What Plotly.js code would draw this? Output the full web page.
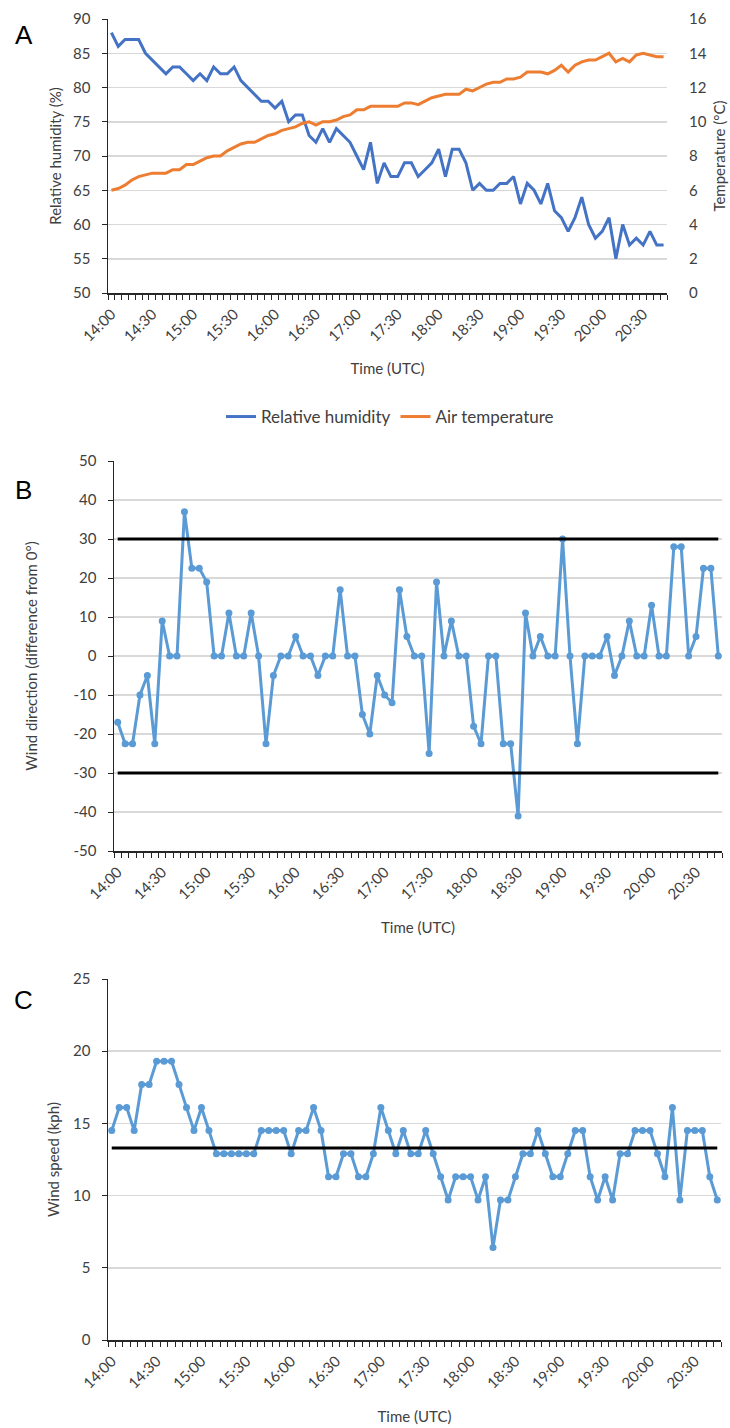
<!DOCTYPE html>
<html>
<head>
<meta charset="utf-8">
<script src="https://cdn.plot.ly/plotly-3.0.1.min.js"></script>
<style>
  html, body { margin: 0; padding: 0; background: #ffffff; }
  #chart { width: 730px; height: 1428px; }
</style>
</head>
<body>
<div id="chart"></div>
<script>
// ---- Data (5-minute readings, 14:00 to 20:45 UTC) ----
const times = [
  "14:00","14:05","14:10","14:15","14:20","14:25","14:30","14:35","14:40","14:45","14:50","14:55",
  "15:00","15:05","15:10","15:15","15:20","15:25","15:30","15:35","15:40","15:45","15:50","15:55",
  "16:00","16:05","16:10","16:15","16:20","16:25","16:30","16:35","16:40","16:45","16:50","16:55",
  "17:00","17:05","17:10","17:15","17:20","17:25","17:30","17:35","17:40","17:45","17:50","17:55",
  "18:00","18:05","18:10","18:15","18:20","18:25","18:30","18:35","18:40","18:45","18:50","18:55",
  "19:00","19:05","19:10","19:15","19:20","19:25","19:30","19:35","19:40","19:45","19:50","19:55",
  "20:00","20:05","20:10","20:15","20:20","20:25","20:30","20:35","20:40","20:45"
];

// Panel A: relative humidity (%)
const relativeHumidity = [
  88,86,87,87,87,85,84,83,82,83,83,82,81,82,81,83,82,82,83,81,80,
  79,78,78,77,78,75,76,76,73,72,74,72,74,73,72,70,68,72,66,69,67,
  67,69,69,67,68,69,71,67,71,71,69,65,66,65,65,66,66,67,63,
  66,65,63,66,62,61,59,61,64,60,58,59,61,55,60,57,58,57,59,57,57
];
// Panel A: air temperature (°C)
const airTemperature = [
  6.0,6.1,6.3,6.6,6.8,6.9,7.0,7.0,7.0,7.2,7.2,7.5,7.5,7.7,7.9,8.0,8.0,8.3,8.5,8.7,8.8,
  8.8,9.0,9.2,9.3,9.5,9.6,9.7,9.9,10.0,9.8,10.0,10.0,10.1,10.3,10.4,10.7,10.7,10.9,10.9,10.9,10.9,
  10.9,11.1,11.1,11.0,11.2,11.4,11.5,11.6,11.6,11.6,11.9,11.8,12.0,12.2,12.3,12.3,12.5,12.5,12.6,
  12.9,12.9,12.9,12.8,13.0,13.3,12.9,13.3,13.5,13.6,13.6,13.8,14.0,13.5,13.7,13.5,13.9,14.0,13.9,13.8,13.8
];
// Panel B: wind direction (difference from 0°)
const windDirection = [
  -17,-22.5,-22.5,-10,-5,-22.5,9,0,0,37,22.5,22.5,19,0,0,11,0,0,11,0,
  -22.5,-5,0,0,5,0,0,-5,0,0,17,0,0,-15,-20,-5,-10,-12,17,5,0,
  0,-25,19,0,9,0,0,-18,-22.5,0,0,-22.5,-22.5,-41,11,0,5,0,0,30,
  0,-22.5,0,0,0,5,-5,0,9,0,0,13,0,0,28,28,0,5,22.5,22.5,0
];
const directionLimits = [30, -30];
const directionTicks = [-50,-40,-30,-20,-10,0,10,20,30,40,50];
// Panel C: wind speed (kph)
const windSpeed = [
  14.5,16.1,16.1,14.5,17.7,17.7,19.3,19.3,19.3,17.7,16.1,14.5,16.1,14.5,12.9,12.9,12.9,12.9,12.9,12.9,14.5,
  14.5,14.5,14.5,12.9,14.5,14.5,16.1,14.5,11.3,11.3,12.9,12.9,11.3,11.3,12.9,16.1,14.5,12.9,14.5,12.9,12.9,
  14.5,12.9,11.3,9.7,11.3,11.3,11.3,9.7,11.3,6.4,9.7,9.7,11.3,12.9,12.9,14.5,12.9,11.3,11.3,12.9,
  14.5,14.5,11.3,9.7,11.3,9.7,12.9,12.9,14.5,14.5,14.5,12.9,11.3,16.1,9.7,14.5,14.5,14.5,11.3,9.7
];
const meanWindSpeed = 13.3;

// Tick labels every 30 minutes
const tickEvery = 6;

// ---- Build ----
const idx = times.map((t, i) => i);
const tickVals = idx.filter(i => i % tickEvery === 0);
const tickText = tickVals.map(i => times[i]);
const ends = [idx[0], idx[idx.length - 1]];

const W = 730, H = 1428;
const px = v => v / W;
const py = v => 1 - v / H;

const FONT = "Lato, 'Open Sans', sans-serif";
const TXT = '#404040';
const AX = '#262626';
const GRID = '#D9D9D9';

function xAxis(d0, d1, anchor, standoff) {
  return {
    domain: [px(d0), px(d1)], anchor: anchor,
    range: [-0.5, idx.length - 0.5],
    tickmode: 'array', tickvals: tickVals, ticktext: tickText,
    tickangle: -45,
    ticks: 'outside', ticklen: 5, tickcolor: 'rgba(0,0,0,0)',
    minor: { tickmode: 'linear', tick0: -0.5, dtick: 1, ticks: 'outside', ticklen: 5, tickwidth: 1, tickcolor: AX, showgrid: false },
    showline: true, linecolor: AX, linewidth: 1.5,
    showgrid: false, zeroline: false,
    tickfont: { family: FONT, size: 15, color: TXT },
    title: { text: 'Time (UTC)', font: { family: FONT, size: 15, color: TXT }, standoff: standoff },
    automargin: false, fixedrange: true
  };
}
function yAxis(top, bottom, anchor, range, dtick, title, standoff) {
  return {
    domain: [py(bottom), py(top)], anchor: anchor,
    range: range, dtick: dtick, tick0: range[0],
    showline: true, linecolor: AX, linewidth: 1.5,
    ticks: 'outside', ticklen: 5, tickcolor: AX,
    ticklabelstandoff: 8,
    showgrid: true, gridcolor: GRID, gridwidth: 1.5, zeroline: false,
    tickfont: { family: FONT, size: 15, color: TXT },
    title: { text: title, font: { family: FONT, size: 15, color: TXT }, standoff: standoff },
    automargin: false, fixedrange: true
  };
}

const traces = [
  { x: idx, y: relativeHumidity, xaxis: 'x', yaxis: 'y', type: 'scatter', mode: 'lines',
    name: 'Relative humidity', line: { color: '#4472C4', width: 3 } },
  { x: idx, y: airTemperature, xaxis: 'x', yaxis: 'y2', type: 'scatter', mode: 'lines',
    name: 'Air temperature', line: { color: '#ED7D31', width: 3 } },

  { x: idx, y: windDirection, xaxis: 'x2', yaxis: 'y3', type: 'scatter', mode: 'lines+markers',
    showlegend: false, line: { color: '#5B9BD5', width: 3 }, marker: { color: '#5B9BD5', size: 7 } },
  { x: ends, y: [directionLimits[0], directionLimits[0]], xaxis: 'x2', yaxis: 'y3', type: 'scatter', mode: 'lines',
    showlegend: false, line: { color: '#000000', width: 3 } },
  { x: ends, y: [directionLimits[1], directionLimits[1]], xaxis: 'x2', yaxis: 'y3', type: 'scatter', mode: 'lines',
    showlegend: false, line: { color: '#000000', width: 3 } },

  { x: idx, y: windSpeed, xaxis: 'x3', yaxis: 'y4', type: 'scatter', mode: 'lines+markers',
    showlegend: false, line: { color: '#5B9BD5', width: 3 }, marker: { color: '#5B9BD5', size: 7 } },
  { x: ends, y: [meanWindSpeed, meanWindSpeed], xaxis: 'x3', yaxis: 'y4', type: 'scatter', mode: 'lines',
    showlegend: false, line: { color: '#000000', width: 3 } }
];

const y2 = yAxis(19, 293, 'x', [0, 16], 2, 'Temperature (°C)', 8);
y2.overlaying = 'y'; y2.side = 'right'; y2.showline = false; y2.showgrid = false;
y2.ticks = 'outside'; y2.tickcolor = 'rgba(0,0,0,0)'; y2.ticklen = 10;
delete y2.domain;

const y3 = yAxis(461, 851, 'x2', [-50, 50], 10, 'Wind direction (difference from 0°)', 32);
y3.tickmode = 'array'; y3.tickvals = directionTicks; y3.ticktext = directionTicks.map(String);

const panelFont = { family: 'Liberation Sans, Arial, sans-serif', size: 26, color: '#000' };

const layout = {
  width: W, height: H,
  margin: { l: 0, r: 0, t: 0, b: 0 },
  paper_bgcolor: '#ffffff', plot_bgcolor: '#ffffff',
  font: { family: FONT, size: 15, color: TXT },
  showlegend: true,
  legend: {
    orientation: 'h', x: px(390), xanchor: 'center', y: py(417), yanchor: 'middle',
    font: { family: FONT, size: 17, color: TXT }, itemwidth: 30, traceorder: 'normal'
  },
  xaxis: xAxis(108, 667, 'y', 20),
  yaxis: yAxis(19, 293, 'x', [50, 90], 5, 'Relative humidity (%)', 8),
  yaxis2: y2,
  xaxis2: xAxis(114, 722, 'y3', 21),
  yaxis3: y3,
  xaxis3: xAxis(108, 721, 'y4', 21),
  yaxis4: yAxis(979, 1340, 'x3', [0, 25], 5, 'Wind speed (kph)', 10),
  annotations: [
    { text: 'A', x: px(24), y: py(35), xref: 'paper', yref: 'paper', xanchor: 'center', yanchor: 'middle', showarrow: false, font: panelFont },
    { text: 'B', x: px(24), y: py(490), xref: 'paper', yref: 'paper', xanchor: 'center', yanchor: 'middle', showarrow: false, font: panelFont },
    { text: 'C', x: px(24), y: py(1000), xref: 'paper', yref: 'paper', xanchor: 'center', yanchor: 'middle', showarrow: false, font: panelFont }
  ]
};

Plotly.newPlot('chart', traces, layout, { staticPlot: true, displayModeBar: false });
</script>
</body>
</html>
